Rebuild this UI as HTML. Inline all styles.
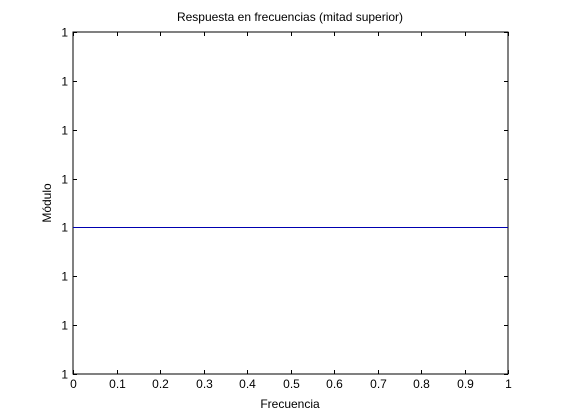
<!DOCTYPE html>
<html><head><meta charset="utf-8"><style>
html,body{margin:0;padding:0;background:#fff;}
svg{display:block;font-family:"Liberation Sans",sans-serif;}
</style></head><body>
<svg id="chart" width="561" height="420">
<rect width="561" height="420" fill="#fff"/>
<text x="290" y="21" font-size="12" text-anchor="middle">Respuesta en frecuencias (mitad superior)</text>
<text x="290" y="408" font-size="12" text-anchor="middle">Frecuencia</text>
<text transform="translate(51,203) rotate(-90)" font-size="12" text-anchor="middle">Módulo</text>
<g id="axes"></g>
</svg>
<script>
const freq = [0, 1];
const magnitude = [1, 1];
const xTicks = [0,0.1,0.2,0.3,0.4,0.5,0.6,0.7,0.8,0.9,1];
const xTickLabels = ["0","0.1","0.2","0.3","0.4","0.5","0.6","0.7","0.8","0.9","1"];
const yTicks = [0.999997,0.999998,0.999999,1,1.000001,1.000002,1.000003,1.000004];
const yTickLabels = ["1","1","1","1","1","1","1","1"];

const L=73,R=508,T=32,B=374;
const xs=v=>L+(v-0)/(1-0)*(R-L);
const ys=v=>B-(v-yTicks[0])/(yTicks[yTicks.length-1]-yTicks[0])*(B-T);
const NS="http://www.w3.org/2000/svg";
const g=document.getElementById('axes');
function mk(tag,attrs){const e=document.createElementNS(NS,tag);for(const k in attrs)e.setAttribute(k,attrs[k]);g.appendChild(e);return e;}

const box=mk('rect',{x:L,y:T,width:R-L,height:B-T,fill:'none',stroke:'#000','stroke-width':1,'shape-rendering':'crispEdges'});



xTicks.forEach((v,i)=>{
  const x=Math.round(xs(v))+0.5;
  const t1=mk('line',{x1:x,x2:x,y1:B,y2:B-4,stroke:'#000'});
  
  
  const t2=mk('line',{x1:x,x2:x,y1:T,y2:T+4,stroke:'#000'});
  
  
  const tx=mk('text',{x:x,y:B+14,'font-size':12,'text-anchor':'middle'});
  tx.textContent=xTickLabels[i];
  
  
});
yTicks.forEach((v,i)=>{
  const y=Math.round(ys(v))+0.5;
  const t1=mk('line',{x1:L,x2:L+4,y1:y,y2:y,stroke:'#000'});
  
  
  const t2=mk('line',{x1:R,x2:R-4,y1:y,y2:y,stroke:'#000'});
  
  
  const tx=mk('text',{x:L-5,y:y+4,'font-size':12,'text-anchor':'end'});
  tx.textContent=yTickLabels[i];
  
  
});
const pts=freq.map((f,i)=>xs(f)+','+(Math.round(ys(magnitude[i]))+0.5)).join(' ');
const line=mk('polyline',{points:pts,fill:'none',stroke:'#0000b0','stroke-width':1});


</script>
</body></html>
